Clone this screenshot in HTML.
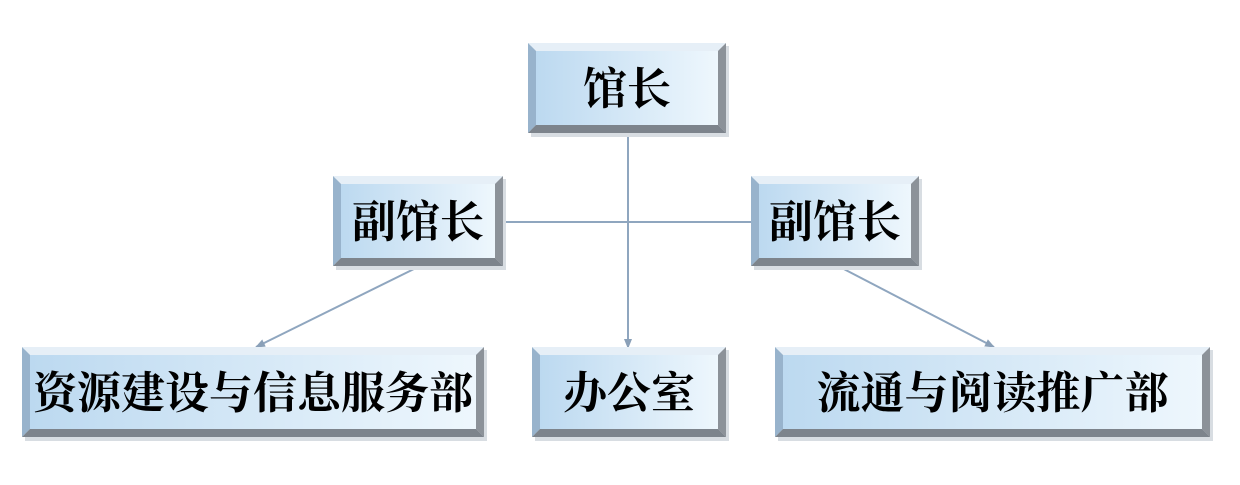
<!DOCTYPE html>
<html><head><meta charset="utf-8"><style>
body{margin:0;background:#fff}
svg{display:block}
text{font-family:"Liberation Serif","Noto Serif CJK SC",serif;font-weight:bold;font-size:44px;fill:#000}
</style></head><body>
<svg width="1240" height="485" viewBox="0 0 1240 485">
<defs>
<linearGradient id="g" x1="0" y1="0" x2="1" y2="0">
<stop offset="0" stop-color="#bcd9f0"/><stop offset="1" stop-color="#eef7fd"/>
</linearGradient>
<marker id="a" markerWidth="10" markerHeight="8" refX="9" refY="4" orient="auto" markerUnits="userSpaceOnUse">
<path d="M0,0 L10,4 L0,8 Z" fill="#8aa0b8"/>
</marker>
<g id="n"></g>
</defs>
<g stroke="#8fa6bf" stroke-width="2" fill="none">
<line x1="628" y1="133" x2="628" y2="348" marker-end="url(#a)"/>
<line x1="503" y1="222" x2="751" y2="222"/>
<line x1="420" y1="266" x2="256" y2="347" marker-end="url(#a)"/>
<line x1="838" y1="266" x2="994" y2="347" marker-end="url(#a)"/>
</g>
<!-- box helper rendered manually -->
<g id="boxes"></g>
<script>
const boxes=[[528,43,198,90,"馆长"],[333,176,170,90,"副馆长"],[751,176,168,90,"副馆长"],[22,347,462,90,"资源建设与信息服务部"],[532,347,194,90,"办公室"],[775,347,435,90,"流通与阅读推广部"]];
const ns="http://www.w3.org/2000/svg";const G=document.getElementById("boxes");const b=8;
function p(pts,fill){const e=document.createElementNS(ns,"polygon");e.setAttribute("points",pts.map(q=>q.join(",")).join(" "));e.setAttribute("fill",fill);G.appendChild(e);}
for(const [x,y,w,h,t] of boxes){
 const X=x+w,Y=y+h;
 p([[x+3,y+3],[X+3,y+3],[X+3,Y+4],[x+3,Y+4]],"#d8dde2");
 p([[x,y],[X,y],[X-b,y+b],[x+b,y+b]],"#e6eff7");
 p([[x,y],[x+b,y+b],[x+b,Y-b],[x,Y]],"#98b3cc");
 p([[X,y],[X,Y],[X-b,Y-b],[X-b,y+b]],"#8c9299");
 p([[x,Y],[X,Y],[X-b,Y-b],[x+b,Y-b]],"#7d848c");
 const r=document.createElementNS(ns,"rect");r.setAttribute("x",x+b);r.setAttribute("y",y+b);r.setAttribute("width",w-2*b);r.setAttribute("height",h-2*b);r.setAttribute("fill","url(#g)");G.appendChild(r);
 const tx=document.createElementNS(ns,"text");tx.setAttribute("x",x+w/2);tx.setAttribute("y",y+h/2+16);tx.setAttribute("text-anchor","middle");tx.textContent=t;G.appendChild(tx);
}
</script>
</svg>
</body></html>
